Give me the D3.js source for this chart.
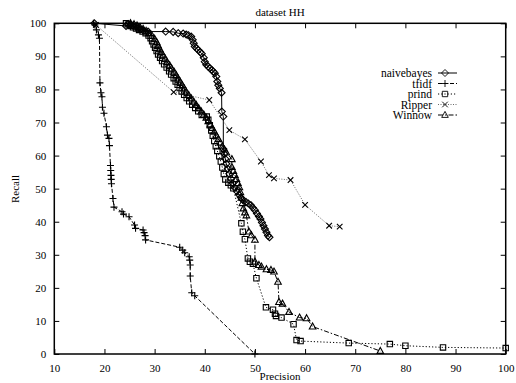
<!DOCTYPE html>
<html>
<head>
<meta charset="utf-8">
<script src="https://cdn.jsdelivr.net/npm/d3@7"></script>
<style>
  body { margin: 0; background: #fff; }
  svg { display: block; font-family: "Liberation Serif", "Times New Roman", serif; }
</style>
</head>
<body>
<svg id="chart" width="516" height="383"></svg>
<script>
// data: [precision, recall]
const naivebayes = [[18.0,100],[24.3,99.2],[24.7,99.8],[25.2,99.6],[25.7,99.3],[26.2,99.0],[26.7,98.6],[27.2,98.2],[27.8,97.8],[28.7,97.5],[32.2,97.5],[33.7,97.4],[34.7,97.0],[35.7,96.9],[36.3,96.6],[36.7,96.4],[37.3,96.0],[37.6,95.0],[37.8,94.0],[38.0,93.0],[38.4,92.4],[38.7,91.9],[39.1,91.3],[39.4,90.8],[39.8,89.6],[40.0,88.4],[40.3,87.5],[40.7,86.9],[41.0,86.4],[41.4,85.9],[41.7,85.4],[42.0,84.9],[42.3,83.9],[42.5,82.4],[42.7,81.3],[43.0,80.3],[43.35,79.0],[43.4,73.3],[43.7,71.8],[43.7,62.0],[43.9,60.5],[44.1,59.0],[44.3,57.5],[44.6,56.0],[44.9,54.5],[45.2,53.0],[45.6,51.6],[46.0,50.3],[46.4,49.2],[46.8,48.2],[47.2,47.3],[47.6,46.6],[48.2,46.0],[48.7,45.5],[49.2,45.0],[49.6,44.2],[50.0,43.5],[50.4,42.5],[50.8,41.6],[51.1,40.8],[51.4,39.8],[51.7,38.8],[52.0,37.8],[52.3,36.8],[52.6,35.8],[52.9,35.3]];

const tfidf = [[17.8,100],[18.1,99.5],[18.4,98],[18.8,96.5],[19.0,95.5],[19.1,82],[19.3,79],[19.5,77.8],[19.6,74.6],[19.9,72.8],[20.4,68.7],[20.6,66.2],[20.9,65.2],[21.0,63],[21.2,57],[21.25,55.5],[21.3,54],[21.35,52.8],[21.4,51.5],[21.7,47],[21.9,44.4],[23.5,43.0],[23.8,42.3],[24.9,41.5],[26.0,39.0],[26.2,38.0],[27.7,37.5],[27.9,36.7],[28.1,35.8],[28.2,34.5],[35.0,32.3],[35.6,31.4],[36.0,30.6],[36.9,29.4],[37.0,28.4],[37.1,26.9],[37.1,23.6],[37.4,18.5],[38.0,17.6],[50.0,0]];

const prind = [[24.3,100],[24.8,99.6],[25.2,99.2],[25.7,98.8],[26.3,98.4],[26.9,98.0],[27.6,97.5],[28.2,97.0],[28.8,96.3],[29.2,95.5],[29.5,94.6],[29.8,93.6],[30.1,92.6],[30.4,91.6],[30.7,90.6],[31.1,89.6],[31.5,88.6],[31.9,87.6],[32.4,86.6],[32.9,85.5],[33.3,84.5],[33.8,83.4],[34.2,82.4],[34.6,81.4],[35.0,80.4],[35.4,79.4],[35.9,78.4],[36.4,77.4],[36.9,76.4],[37.5,75.4],[38.1,74.4],[38.7,73.4],[39.4,72.3],[40.4,71.8],[40.7,70.8],[41.0,69.2],[41.3,67.6],[41.6,66.0],[41.9,64.4],[42.2,62.8],[42.5,61.4],[42.9,59.8],[43.2,58.2],[43.5,56.4],[43.8,54.4],[44.1,52.8],[44.7,51.8],[45.2,51.0],[45.7,50.1],[47.3,39.5],[47.6,37.0],[48.0,34.7],[48.6,28.9],[49.0,27.9],[49.6,27.3],[50.3,22.9],[52.2,14.1],[53.6,13.4],[54.0,12.2],[54.2,11.5],[55.3,11.0],[57.7,9.0],[58.3,4.2],[59.1,3.9],[68.7,3.3],[76.9,3.0],[80.0,2.5],[87.5,2.0],[100,1.8]];

const ripper = [[18.3,99.5],[33.8,79.2],[40.9,76.8],[44.9,67.7],[48.0,64.9],[51.2,58.2],[52.8,54.1],[53.8,53.1],[57.1,52.6],[60.0,45.1],[64.8,38.8],[66.9,38.5]];

const winnow = [[25.2,100],[25.9,99.7],[26.5,99.3],[27.1,98.8],[27.7,98.3],[28.3,97.7],[28.9,97.0],[29.5,96.2],[30.0,95.3],[30.4,94.3],[30.7,93.3],[31.0,92.3],[31.3,91.3],[31.7,90.3],[32.1,89.3],[32.5,88.3],[33.0,87.3],[33.4,86.3],[33.9,85.3],[34.3,84.3],[34.7,83.3],[35.1,82.3],[35.5,81.3],[35.9,80.3],[36.3,79.3],[36.8,78.3],[37.3,77.3],[37.8,76.3],[38.3,75.3],[38.8,74.3],[39.3,73.3],[39.8,72.4],[40.3,71.4],[40.7,70.4],[41.1,69.4],[41.5,68.3],[41.9,67.2],[42.3,66.1],[42.7,65.0],[43.1,63.9],[43.5,62.8],[43.9,61.8],[44.3,60.9],[45.4,58.9],[45.4,56.5],[45.7,55.3],[46.0,54.1],[46.3,52.9],[46.6,51.7],[46.9,50.4],[47.1,48.9],[47.3,47.2],[47.5,45.6],[47.7,44.0],[48.0,42.8],[48.3,41.9],[48.8,37.0],[49.3,35.9],[50.0,34.5],[50.0,27.9],[50.8,26.9],[51.3,26.4],[52.3,25.6],[53.2,25.4],[53.8,24.9],[54.6,21.8],[54.8,15.7],[55.5,15.2],[56.8,12.7],[58.9,11.0],[60.3,10.8],[61.5,8.3],[75.0,0.9]];

const xTicks = [10, 20, 30, 40, 50, 60, 70, 80, 90, 100];
const yTicks = [0, 10, 20, 30, 40, 50, 60, 70, 80, 90, 100];

// marker shapes, gnuplot style
const markers = {
  diamond: "M0,-3.5L3.5,0L0,3.5L-3.5,0Z",
  plus: "M-3.5,0H3.5M0,-3.5V3.5",
  box: "M-2.7,-2.7h5.4v5.4h-5.4Z",
  cross: "M-2.8,-2.8L2.8,2.8M-2.8,2.8L2.8,-2.8",
  triangle: "M0,-3.6L3.3,2.4L-3.3,2.4Z"
};

const series = [
  { name: "naivebayes", values: naivebayes, marker: "diamond", dash: null, color: "#000", width: 1 },
  { name: "tfidf", values: tfidf, marker: "plus", dash: "4,2", color: "#000", width: 1 },
  { name: "prind", values: prind, marker: "box", dash: "1.2,2", color: "#000", width: 1 },
  { name: "Ripper", values: ripper, marker: "cross", dash: "1,1.5", color: "#444", width: 0.8 },
  { name: "Winnow", values: winnow, marker: "triangle", dash: "5,2,1.5,2", color: "#000", width: 1 }
];

const svg = d3.select("#chart");
const margin = { left: 54.3, right: 505.7, top: 23.3, bottom: 354 };

const x = d3.scaleLinear().domain([10, 100]).range([margin.left, margin.right]);
const y = d3.scaleLinear().domain([0, 100]).range([margin.bottom, margin.top]);

// axes with inward ticks, mirrored on top/right
const tickLen = 5;
const serif = "Liberation Serif, serif";
svg.append("g")
  .attr("transform", `translate(0,${margin.bottom})`)
  .call(d3.axisBottom(x).tickValues(xTicks).tickSize(-tickLen).tickPadding(10))
  .call(g => g.select(".domain").remove());
svg.append("g")
  .attr("transform", `translate(0,${margin.top})`)
  .call(d3.axisTop(x).tickValues(xTicks).tickSize(-tickLen).tickFormat(""))
  .call(g => g.select(".domain").remove());
svg.append("g")
  .attr("transform", `translate(${margin.left},0)`)
  .call(d3.axisLeft(y).tickValues(yTicks).tickSize(-tickLen).tickPadding(8))
  .call(g => g.select(".domain").remove());
svg.append("g")
  .attr("transform", `translate(${margin.right},0)`)
  .call(d3.axisRight(y).tickValues(yTicks).tickSize(-tickLen).tickFormat(""))
  .call(g => g.select(".domain").remove());

svg.selectAll("g").attr("font-family", serif).attr("font-size", 11);
svg.selectAll(".tick line").attr("stroke", "#000").attr("stroke-width", 1);
svg.selectAll(".tick text").attr("fill", "#000");

const line = d3.line().x(d => x(d[0])).y(d => y(d[1]));

const plot = svg.append("g");
series.forEach(s => {
  plot.append("path")
    .attr("d", line(s.values))
    .attr("fill", "none")
    .attr("stroke", s.color)
    .attr("stroke-width", s.width)
    .attr("stroke-dasharray", s.dash);
  plot.selectAll(null)
    .data(s.values)
    .enter()
    .append("path")
    .attr("d", markers[s.marker])
    .attr("transform", d => `translate(${x(d[0])},${y(d[1])})`)
    .attr("fill", "none")
    .attr("stroke", "#000")
    .attr("stroke-width", 1.1);
});

// frame
svg.append("rect")
  .attr("x", margin.left).attr("y", margin.top)
  .attr("width", margin.right - margin.left)
  .attr("height", margin.bottom - margin.top)
  .attr("fill", "none")
  .attr("stroke", "#000")
  .attr("stroke-width", 1.5);

// legend
const legend = svg.append("g").attr("class", "legend");
series.forEach((s, i) => {
  const ly = 73 + i * 10.5;
  legend.append("text")
    .attr("x", 432).attr("y", ly + 4)
    .attr("text-anchor", "end")
    .style("font-size", "11.5px")
    .text(s.name);
  legend.append("line")
    .attr("x1", 438).attr("x2", 457)
    .attr("y1", ly).attr("y2", ly)
    .attr("stroke", s.color)
    .attr("stroke-width", s.width)
    .attr("stroke-dasharray", s.dash);
  legend.append("path")
    .attr("d", markers[s.marker])
    .attr("transform", `translate(445,${ly})`)
    .attr("fill", "none")
    .attr("stroke", "#000")
    .attr("stroke-width", 0.9);
});

// titles
svg.append("text")
  .attr("x", 280).attr("y", 16)
  .attr("text-anchor", "middle")
  .style("font-size", "11px")
  .text("dataset HH");
svg.append("text")
  .attr("x", 280).attr("y", 380)
  .attr("text-anchor", "middle")
  .style("font-size", "11px")
  .text("Precision");
svg.append("text")
  .attr("transform", "translate(19,189) rotate(-90)")
  .attr("text-anchor", "middle")
  .style("font-size", "11px")
  .text("Recall");
</script>
</body>
</html>
